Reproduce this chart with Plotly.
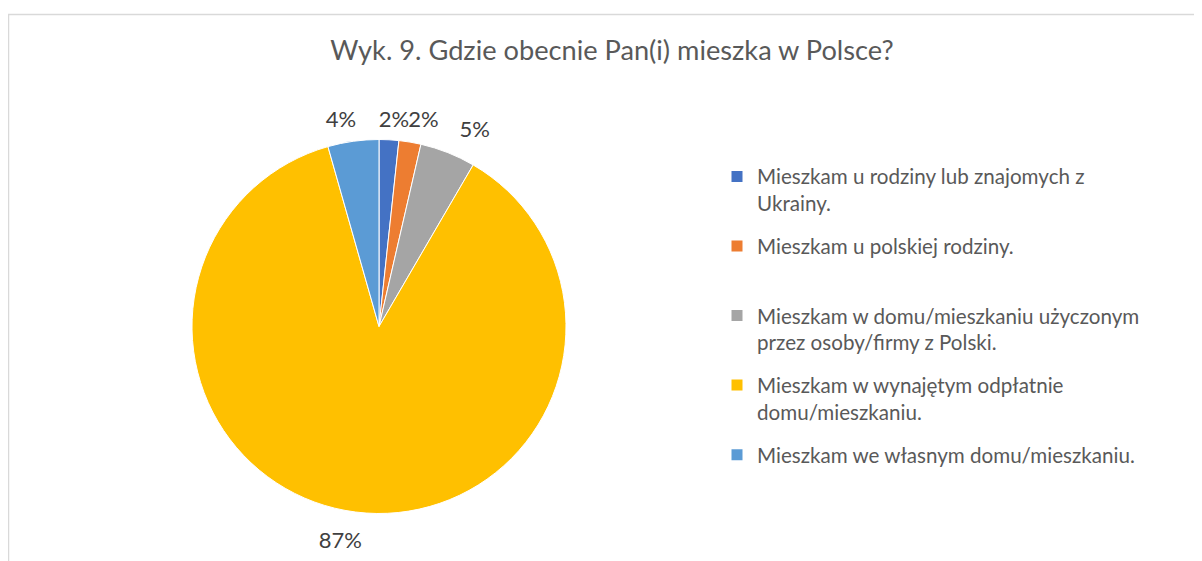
import plotly.graph_objects as go

categories = [
    "Mieszkam u rodziny lub znajomych z Ukrainy.",
    "Mieszkam u polskiej rodziny.",
    "Mieszkam w domu/mieszkaniu użyczonym przez osoby/firmy z Polski.",
    "Mieszkam w wynajętym odpłatnie domu/mieszkaniu.",
    "Mieszkam we własnym domu/mieszkaniu.",
]
legend_labels = [
    "Mieszkam u rodziny lub znajomych z<br>Ukrainy.",
    "Mieszkam u polskiej rodziny.<br>&nbsp;",
    "Mieszkam w domu/mieszkaniu użyczonym<br>przez osoby/firmy z Polski.",
    "Mieszkam w wynajętym odpłatnie<br>domu/mieszkaniu.",
    "Mieszkam we własnym domu/mieszkaniu.",
]
values = [1.7, 1.9, 4.8, 87.2, 4.4]
colors = ["#4472C4", "#ED7D31", "#A5A5A5", "#FFC000", "#5B9BD5"]
title = "Wyk. 9. Gdzie obecnie Pan(i) mieszka w Polsce?"

W, H = 1202, 561
FONT = "Lato"
LEG_FS = 20.6

# pie geometry (pixels)
CX, CY, R = 371, 318.5, 187
# per-label ring style: extra radius, angular shift (deg) and horizontal
# shift (px) so the outside labels sit where the original places them
label_pad = [8, 9.3, 13.6, 12.5, 8.7]
label_rot = [-2.46, -2.96, 0.0, -4.25, 3.2]
label_dx = [-9, 0, 0, 0, 0]


def dom(r, dx=0):
    return dict(x=[(CX + dx - r) / W, (CX + dx + r) / W],
                y=[1 - (CY + r) / H, 1 - (CY - r) / H])


fig = go.Figure()
fig.add_trace(go.Pie(
    labels=categories,
    values=values,
    sort=False,
    direction="clockwise",
    rotation=0,
    marker=dict(colors=colors, line=dict(color="white", width=1)),
    textinfo="none",
    hoverinfo="label+percent",
    domain=dom(R),
    showlegend=False,
))

# transparent rings carrying the outside percentage labels (one label each)
n = len(values)
for i in range(n):
    fig.add_trace(go.Pie(
        labels=categories,
        values=values,
        sort=False,
        direction="clockwise",
        rotation=label_rot[i],
        marker=dict(colors=["rgba(0,0,0,0)"] * n, line=dict(width=0)),
        texttemplate="%{percent:.0%}",
        textposition=["outside" if j == i else "none" for j in range(n)],
        textfont=dict(size=22, color="#404040", family=FONT),
        hoverinfo="skip",
        domain=dom(R + label_pad[i], label_dx[i]),
        showlegend=False,
    ))

for i, (lab, col) in enumerate(zip(legend_labels, colors)):
    fig.add_trace(go.Scatter(
        x=[None], y=[None], mode="markers", name=lab,
        marker=dict(symbol="square", size=11, color=col),
        legendgroup=f"g{i}", showlegend=True, hoverinfo="skip",
    ))

fig.update_layout(
    width=W, height=H,
    margin=dict(l=0, r=0, t=0, b=0),
    paper_bgcolor="white",
    plot_bgcolor="white",
    xaxis=dict(visible=False),
    yaxis=dict(visible=False),
    title=dict(text=title, x=604 / W, xanchor="center", y=1 - 42 / H, yanchor="middle",
               font=dict(size=27.2, color="#595959", family=FONT)),
    legend=dict(x=709 / W, xanchor="left", y=1 - 148.5 / H, yanchor="top",
                font=dict(size=LEG_FS, color="#595959", family=FONT),
                valign="top", itemwidth=30, tracegroupgap=13),
    shapes=[dict(type="rect", xref="paper", yref="paper",
                 x0=0.5 / W, x1=1.1, y0=-0.1, y1=1 - 6.5 / H,
                 line=dict(color="#D9D9D9", width=1.5), layer="below")],
)

fig.write_html("out.html")
